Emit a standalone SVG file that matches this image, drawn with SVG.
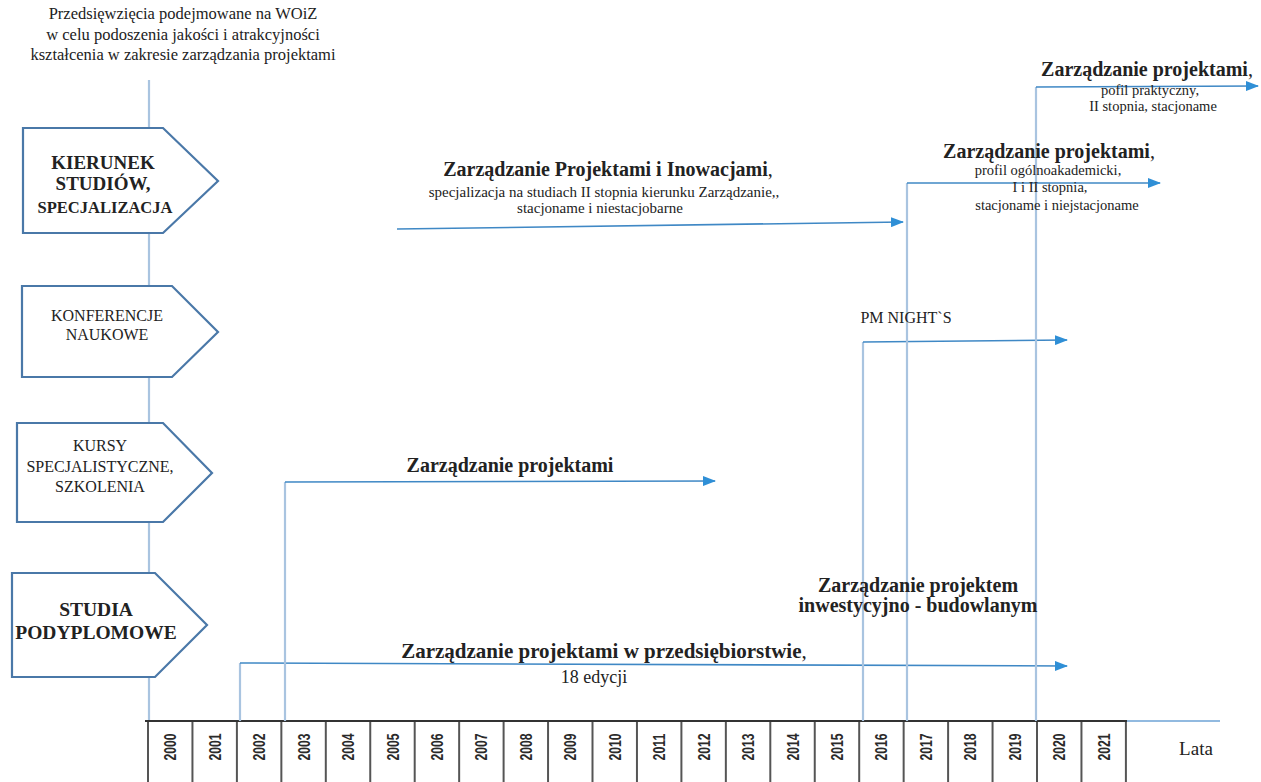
<svg xmlns="http://www.w3.org/2000/svg" width="1261" height="782" viewBox="0 0 1261 782">
<defs>
<marker id="ah" markerUnits="userSpaceOnUse" markerWidth="14" markerHeight="10" refX="12" refY="5" orient="auto">
<path d="M0,0 L13,5 L0,10 Z" fill="#2f8fd6"/>
</marker>
<style>
.serif{font-family:"Liberation Serif","Times New Roman",serif;fill:#222}
.b{font-weight:bold}
.mid{text-anchor:middle}
.box{fill:#fff;stroke:#4a78a8;stroke-width:2.2}
.vert{stroke:#a9c4e0;stroke-width:2.2;fill:none}
.hor{stroke:#3f88c5;stroke-width:1.6;fill:none}
.cell{stroke:#555;stroke-width:2}
.yr{font-family:"Liberation Sans",Arial,sans-serif;font-weight:bold;font-size:16.5px;fill:#2a2a2a;text-anchor:middle;dominant-baseline:central}
</style>
</defs>
<rect width="1261" height="782" fill="#fff"/>

<g id="title" class="serif mid" font-size="16.5">
<text x="183" y="19">Przedsięwzięcia podejmowane na WOiZ</text>
<text x="183" y="40">w celu podoszenia jakości i atrakcyjności</text>
<text x="183" y="60">kształcenia w zakresie zarządzania projektami</text>
</g>

<line id="main-axis" x1="149" y1="80" x2="149" y2="721" class="vert"/>

<g id="timeline">
<line x1="145" y1="721" x2="1127" y2="721" stroke="#333" stroke-width="2"/>
<line x1="1127" y1="721" x2="1220" y2="721" stroke="#6ea3d6" stroke-width="1.5"/>
<g class="cell">
<line x1="148" y1="722" x2="148" y2="782"/><line x1="192.45" y1="722" x2="192.45" y2="782"/><line x1="236.9" y1="722" x2="236.9" y2="782"/><line x1="281.35" y1="722" x2="281.35" y2="782"/><line x1="325.8" y1="722" x2="325.8" y2="782"/><line x1="370.25" y1="722" x2="370.25" y2="782"/><line x1="414.7" y1="722" x2="414.7" y2="782"/><line x1="459.15" y1="722" x2="459.15" y2="782"/><line x1="503.6" y1="722" x2="503.6" y2="782"/><line x1="548.05" y1="722" x2="548.05" y2="782"/><line x1="592.5" y1="722" x2="592.5" y2="782"/><line x1="636.95" y1="722" x2="636.95" y2="782"/><line x1="681.4" y1="722" x2="681.4" y2="782"/><line x1="725.85" y1="722" x2="725.85" y2="782"/><line x1="770.3" y1="722" x2="770.3" y2="782"/><line x1="814.75" y1="722" x2="814.75" y2="782"/><line x1="859.2" y1="722" x2="859.2" y2="782"/><line x1="903.65" y1="722" x2="903.65" y2="782"/><line x1="948.1" y1="722" x2="948.1" y2="782"/><line x1="992.55" y1="722" x2="992.55" y2="782"/><line x1="1037" y1="722" x2="1037" y2="782"/><line x1="1081.45" y1="722" x2="1081.45" y2="782"/><line x1="1125.9" y1="722" x2="1125.9" y2="782"/>
</g>
<g class="yr">
<text transform="translate(170.2,747) rotate(-90)" textLength="27" lengthAdjust="spacingAndGlyphs">2000</text>
<text transform="translate(214.7,747) rotate(-90)" textLength="27" lengthAdjust="spacingAndGlyphs">2001</text>
<text transform="translate(259.1,747) rotate(-90)" textLength="27" lengthAdjust="spacingAndGlyphs">2002</text>
<text transform="translate(303.6,747) rotate(-90)" textLength="27" lengthAdjust="spacingAndGlyphs">2003</text>
<text transform="translate(348.0,747) rotate(-90)" textLength="27" lengthAdjust="spacingAndGlyphs">2004</text>
<text transform="translate(392.5,747) rotate(-90)" textLength="27" lengthAdjust="spacingAndGlyphs">2005</text>
<text transform="translate(436.9,747) rotate(-90)" textLength="27" lengthAdjust="spacingAndGlyphs">2006</text>
<text transform="translate(481.4,747) rotate(-90)" textLength="27" lengthAdjust="spacingAndGlyphs">2007</text>
<text transform="translate(525.8,747) rotate(-90)" textLength="27" lengthAdjust="spacingAndGlyphs">2008</text>
<text transform="translate(570.3,747) rotate(-90)" textLength="27" lengthAdjust="spacingAndGlyphs">2009</text>
<text transform="translate(614.7,747) rotate(-90)" textLength="27" lengthAdjust="spacingAndGlyphs">2010</text>
<text transform="translate(659.2,747) rotate(-90)" textLength="27" lengthAdjust="spacingAndGlyphs">2011</text>
<text transform="translate(703.6,747) rotate(-90)" textLength="27" lengthAdjust="spacingAndGlyphs">2012</text>
<text transform="translate(748.1,747) rotate(-90)" textLength="27" lengthAdjust="spacingAndGlyphs">2013</text>
<text transform="translate(792.5,747) rotate(-90)" textLength="27" lengthAdjust="spacingAndGlyphs">2014</text>
<text transform="translate(837.0,747) rotate(-90)" textLength="27" lengthAdjust="spacingAndGlyphs">2015</text>
<text transform="translate(881.4,747) rotate(-90)" textLength="27" lengthAdjust="spacingAndGlyphs">2016</text>
<text transform="translate(925.9,747) rotate(-90)" textLength="27" lengthAdjust="spacingAndGlyphs">2017</text>
<text transform="translate(970.3,747) rotate(-90)" textLength="27" lengthAdjust="spacingAndGlyphs">2018</text>
<text transform="translate(1014.8,747) rotate(-90)" textLength="27" lengthAdjust="spacingAndGlyphs">2019</text>
<text transform="translate(1059.2,747) rotate(-90)" textLength="27" lengthAdjust="spacingAndGlyphs">2020</text>
<text transform="translate(1103.7,747) rotate(-90)" textLength="27" lengthAdjust="spacingAndGlyphs">2021</text>
</g>
<text class="serif mid" x="1196" y="755" font-size="19">Lata</text>
</g>

<g id="box-kierunek">
<path class="box" d="M23,128 H163 L218,181 L163,233 H23 Z"/>
<text class="serif b mid" x="103" y="169" font-size="19">KIERUNEK</text>
<text class="serif b mid" x="103" y="190" font-size="19">STUDIÓW,</text>
<text class="serif b mid" x="105" y="213" font-size="16.5">SPECJALIZACJA</text>
</g>

<g id="box-konferencje">
<path class="box" d="M22,286 H172 L218,332 L172,377 H22 Z"/>
<text class="serif mid" x="107" y="321" font-size="16">KONFERENCJE</text>
<text class="serif mid" x="107" y="340" font-size="16">NAUKOWE</text>
</g>

<g id="box-kursy">
<path class="box" d="M17,423 H163 L212,473 L163,522 H17 Z"/>
<text class="serif mid" x="100" y="451" font-size="16">KURSY</text>
<text class="serif mid" x="100" y="472" font-size="16">SPECJALISTYCZNE,</text>
<text class="serif mid" x="100" y="492" font-size="16">SZKOLENIA</text>
</g>

<g id="box-studia">
<path class="box" d="M12,573 H155 L207,625 L155,677 H12 Z"/>
<text class="serif b mid" x="96" y="616" font-size="19.5">STUDIA</text>
<text class="serif b mid" x="96" y="639" font-size="19.5">PODYPLOMOWE</text>
</g>

<g id="connectors">
<line class="vert" x1="240" y1="721" x2="240" y2="663"/>
<path class="hor" d="M240,663 L1067,666" marker-end="url(#ah)"/>
<line class="vert" x1="285" y1="721" x2="285" y2="482"/>
<path class="hor" d="M285,482 L715,481" marker-end="url(#ah)"/>
<path class="hor" d="M397,229 L903,222" marker-end="url(#ah)"/>
<line class="vert" x1="863" y1="721" x2="863" y2="342"/>
<path class="hor" d="M863,342 L1067,340" marker-end="url(#ah)"/>
<line class="vert" x1="907" y1="721" x2="907" y2="183"/>
<path class="hor" d="M907,183 L1160,183" marker-end="url(#ah)"/>
<line class="vert" x1="1036" y1="721" x2="1036" y2="87"/>
<path class="hor" d="M1036,87 L1258,86" marker-end="url(#ah)"/>
</g>

<g id="label-przedsiebiorstwo" class="serif mid">
<text class="b" x="604" y="658" font-size="21">Zarządzanie projektami w przedsiębiorstwie<tspan font-weight="normal">,</tspan></text>
<text x="594" y="683" font-size="18">18 edycji</text>
</g>

<g id="label-kursy" class="serif mid">
<text class="b" x="510" y="472" font-size="20">Zarządzanie projektami</text>
</g>

<g id="label-zpi" class="serif mid">
<text class="b" x="608" y="176" font-size="20">Zarządzanie Projektami i Inowacjami<tspan font-weight="normal">,</tspan></text>
<text x="604" y="197" font-size="15">specjalizacja na studiach II stopnia kierunku Zarządzanie,,</text>
<text x="600" y="213" font-size="15">stacjoname i niestacjobarne</text>
</g>

<g id="label-pmnights" class="serif mid">
<text x="906" y="323" font-size="16">PM NIGHT`S</text>
</g>

<g id="label-inwestycyjno" class="serif mid">
<text class="b" x="918" y="592" font-size="20">Zarządzanie projektem</text>
<text class="b" x="918" y="612" font-size="20">inwestycyjno - budowlanym</text>
</g>

<g id="label-zp-ogolnoakademicki" class="serif mid">
<text class="b" x="1049" y="158" font-size="20">Zarządzanie projektami<tspan font-weight="normal">,</tspan></text>
<text x="1048" y="175" font-size="14.5">profil ogólnoakademicki,</text>
<text x="1050" y="192" font-size="14.5">I i II stopnia,</text>
<text x="1057" y="210" font-size="14.5">stacjoname i niejstacjoname</text>
</g>

<g id="label-zp-praktyczny" class="serif mid">
<text class="b" x="1147" y="76" font-size="20">Zarządzanie projektami<tspan font-weight="normal">,</tspan></text>
<text x="1150" y="95" font-size="14.5">pofil praktyczny,</text>
<text x="1153" y="111" font-size="14.5">II stopnia, stacjoname</text>
</g>
</svg>
